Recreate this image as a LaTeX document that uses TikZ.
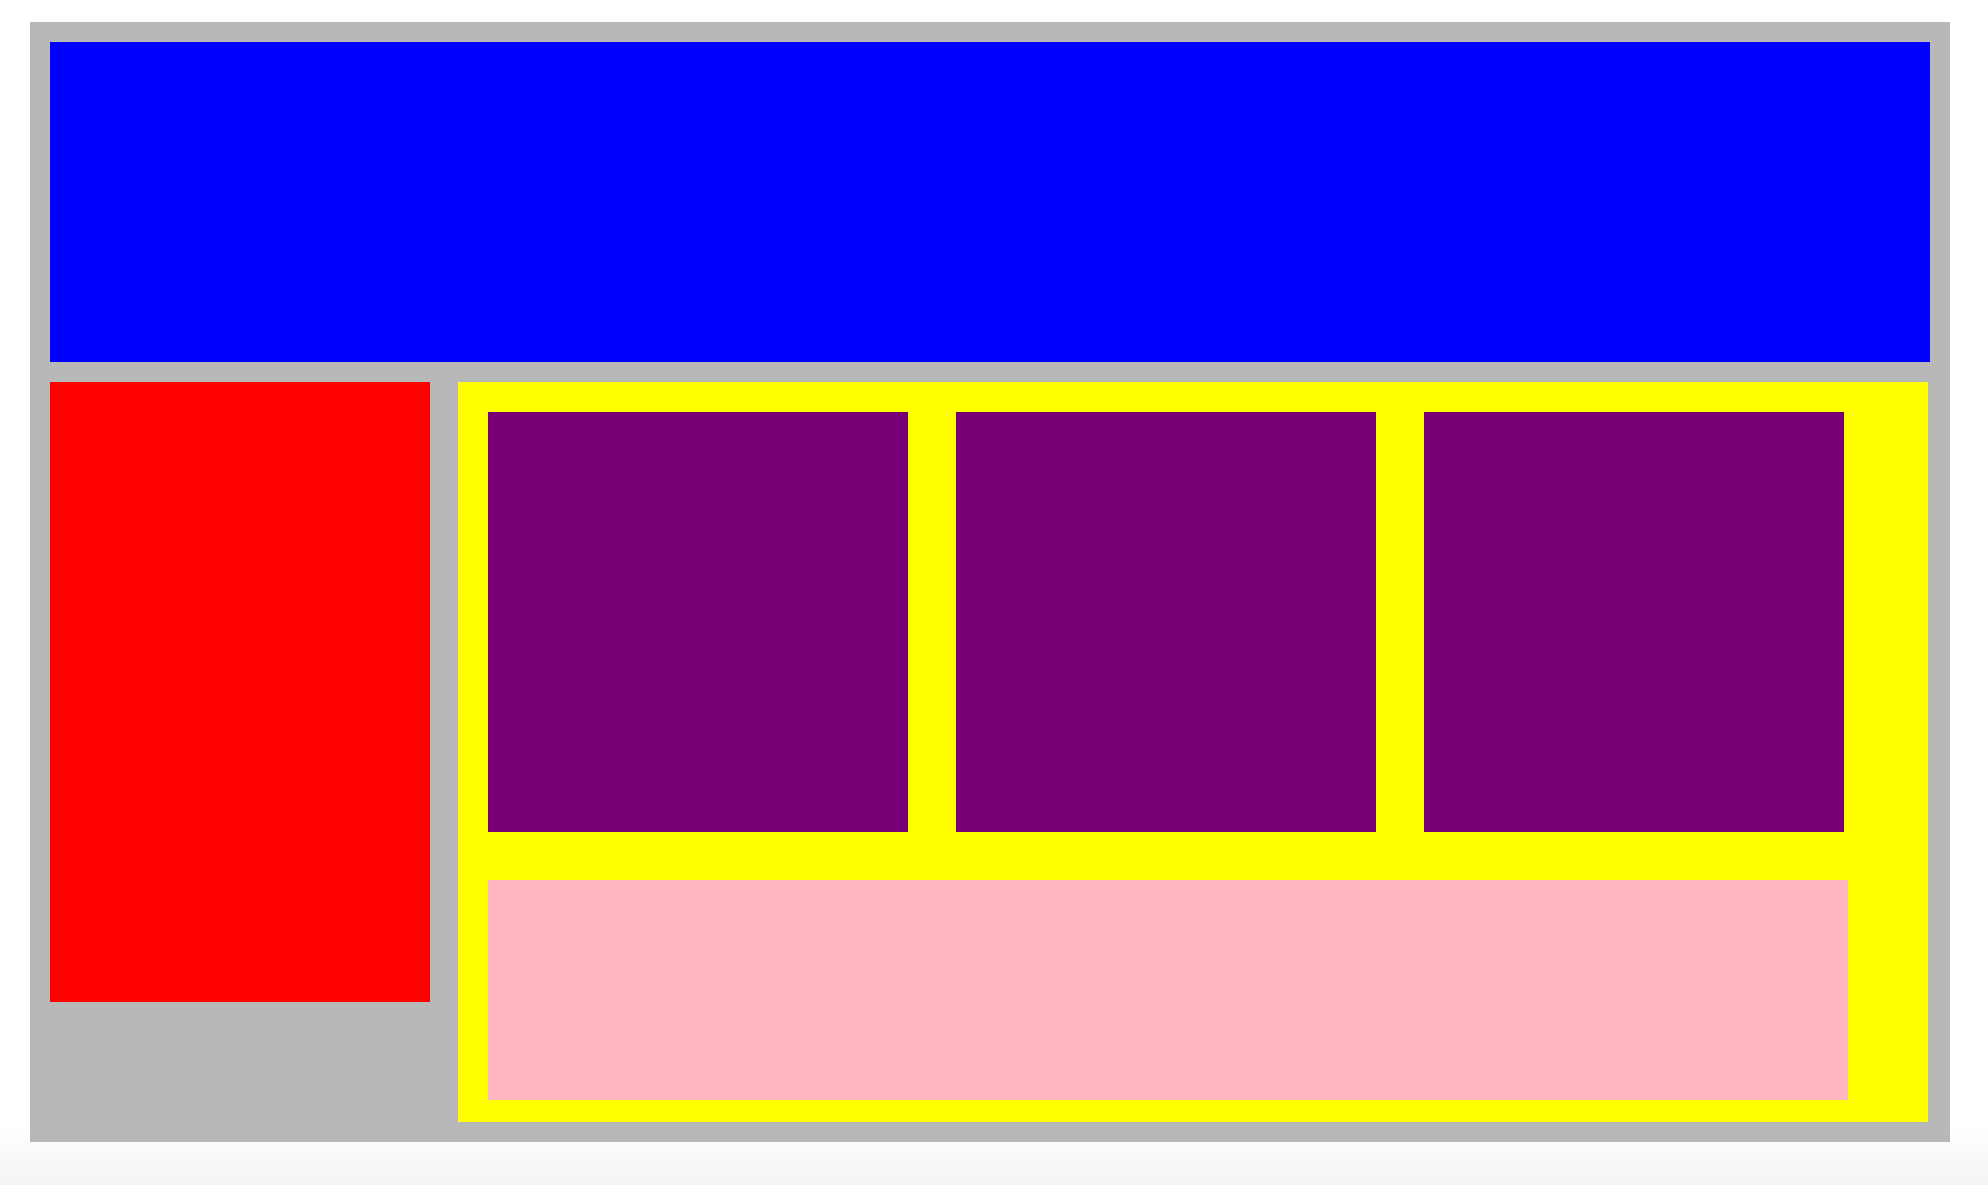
\documentclass[tikz,border=0pt]{standalone}
\definecolor{frame}{HTML}{B8B8B8}
\definecolor{hdr}{HTML}{0000FF}
\definecolor{side}{HTML}{FF0000}
\definecolor{main}{HTML}{FFFF00}
\definecolor{card}{HTML}{770077}
\definecolor{foot}{HTML}{FFB6C1}
\definecolor{fade}{HTML}{F4F4F4}
\begin{document}
\begin{tikzpicture}[x=0.01cm,y=-0.01cm]
\tikzset{box/.style={draw=none}}
\useasboundingbox (0,0) rectangle (1988,1184);
\fill[white] (0,0) rectangle (1988,1184);
\shade[top color=white,bottom color=fade] (0,1125) rectangle (1988,1184);
\fill[box,frame] (30,22) rectangle (1950,1142);
\fill[box,hdr] (50,42) rectangle (1930,362);
\fill[box,side] (50,382) rectangle (430,1002);
\fill[box,main] (458,382) rectangle (1928,1122);
\fill[box,card] (488,412) rectangle (908,832);
\fill[box,card] (956,412) rectangle (1376,832);
\fill[box,card] (1424,412) rectangle (1844,832);
\fill[box,foot] (488,880) rectangle (1848,1100);
\end{tikzpicture}
\end{document}
